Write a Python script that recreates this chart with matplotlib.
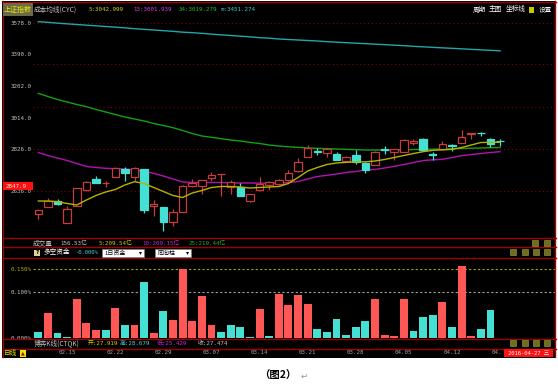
import matplotlib
matplotlib.use("Agg")
import matplotlib.pyplot as plt
from matplotlib.patches import Rectangle
from matplotlib.transforms import blended_transform_factory

W, H = 558, 388

# ---------------- data ----------------
open_ = [2432,2474,2510,2378,2481,2573,2645,2615,2652,2702,2656,2700,2480,2472,2386,2446,2597,2602,2650,2669,
         2592,2592,2512,2576,2606,2612,2633,2687,2776,2807,2796,2789,2747,2786,2741,2726,2819,2806,2806,2858,
         2881,2789,2819,2843,2860,2914,2918,2882,2870]
close = [2453,2510,2489,2459,2586,2626,2620,2618,2710,2676,2710,2456,2492,2384,2446,2600,2616,2634,2666,2671,
         2622,2542,2550,2614,2626,2636,2676,2744,2828,2804,2820,2756,2776,2746,2698,2806,2816,2820,2879,2870,
         2814,2786,2850,2840,2892,2916,2915,2850,2867]
high = [2456,2525,2520,2480,2588,2630,2660,2632,2716,2712,2714,2702,2516,2474,2459,2603,2640,2636,2682,2672,
        2636,2616,2552,2656,2627,2639,2696,2766,2844,2830,2822,2801,2777,2813,2744,2807,2840,2822,2882,2882,
        2890,2804,2870,2850,2936,2918,2926,2885,2879]
low = [2402,2471,2484,2378,2480,2570,2618,2592,2651,2632,2630,2440,2422,2330,2360,2444,2596,2552,2630,2540,
       2552,2540,2502,2570,2576,2606,2630,2684,2774,2786,2776,2753,2744,2732,2676,2726,2794,2756,2804,2846,
       2812,2756,2816,2810,2858,2880,2897,2836,2840]

cyc5 = [2510,2510,2506,2495,2486,2516,2543,2564,2579,2606,2626,2615,2591,2567,2543,2531,2558,2573,2591,2597,
        2597,2594,2588,2591,2594,2597,2615,2651,2690,2711,2729,2738,2742,2744,2745,2750,2759,2771,2783,2795,
        2806,2814,2817,2820,2831,2846,2861,2862,2862]
cyc13 = [2801,2783,2768,2753,2735,2717,2711,2706,2704,2702,2696,2687,2676,2660,2642,2624,2621,2621,2621,2621,
         2619,2618,2618,2617,2616,2616,2621,2627,2642,2657,2664,2672,2681,2687,2696,2699,2708,2718,2729,2741,
         2753,2757,2760,2771,2782,2789,2795,2801,2806]
cyc34 = [3156,3137,3119,3104,3089,3076,3059,3044,3029,3014,3002,2990,2975,2963,2950,2933,2915,2900,2892,2884,
         2876,2870,2862,2855,2846,2840,2835,2832,2828,2826,2824,2822,2820,2818,2816,2816,2816,2816,2817,2819,
         2820,2821,2822,2823,2825,2827,2828,2830,2831]
cycinf = [3586,3582,3577,3573,3569,3565,3561,3557,3553,3549,3544,3540,3536,3532,3528,3523,3520,3516,3511,3507,
          3503,3499,3495,3490,3487,3482,3479,3476,3473,3470,3466,3463,3460,3457,3454,3451,3448,3445,3442,3438,
          3435,3432,3429,3426,3423,3420,3417,3414,3411]

fund = [0.013,0.054,0.011,0.002,0.085,0.033,0.017,0.017,0.065,0.028,
        0.028,0.122,0.011,0.059,0.039,0.150,0.037,0.091,0.030,0.013,
        0.028,0.024,0.002,0.063,0.004,0.096,0.072,0.094,0.074,0.020,
        0.013,0.041,0.007,0.024,0.037,0.085,0.007,0.004,0.085,0.015,
        0.046,0.050,0.080,0.024,0.157,0.004,0.020,0.061]
fund_up = [0,1,0,0,1,1,1,0,1,0, 1,0,1,0,1,1,1,1,1,0, 0,0,0,1,0,1,1,1,1,0,
           0,0,0,0,0,1,1,1,1,0, 0,0,1,0,1,1,0,0]

price_ticks = [3578, 3392, 3200, 3008, 2822, 2570]
price_labels = ['3578.0', '3390.0', '3202.0', '3014.0', '2826.0', '2636.0']
price_grid = [3578, 3330, 3074, 2822, 2570]
fund_ticks = [0.15, 0.10, 0.0]
fund_labels = ['0.150%', '0.100%', '0.000%']
date_pos = [4, 9, 14, 19, 24, 29, 34, 39, 44, 48.7]
date_labels = ['02.15', '02.22', '02.29', '03.07', '03.14', '03.21', '03.28', '04.05', '04.12', '04.']

# ---------------- style ----------------
RED = '#c83c3c'
TEAL = '#44e0d4'
BARRED = '#ff5656'
BORDER = '#a00000'
GRAY = '#c0c0c0'
YEL = '#b4b400'
MAG = '#b014b0'
GRN = '#14a014'
CYN = '#20a8a8'
CJK = ['Noto Sans CJK SC', 'DejaVu Sans']
MONO = ['DejaVu Sans Mono', 'Noto Sans CJK SC']
NS = 4.2   # number font size
CS = 4.8   # CJK font size

idx = list(range(1, len(open_) + 1))

fig = plt.figure(figsize=(W / 100, H / 100), dpi=100)
fig.patch.set_facecolor('white')


def rect(x0, y0, x1, y1):
    return [x0 / W, 1 - y1 / H, (x1 - x0) / W, (y1 - y0) / H]


bg = fig.add_axes([0, 0, 1, 1], zorder=0)
bg.set_xlim(0, W); bg.set_ylim(H, 0); bg.axis('off')
bg.add_patch(Rectangle((2, 1), 554, 357, facecolor='black', edgecolor='none'))

XL = (0.449, 54.71)

# ---------------- main price panel ----------------
ax = fig.add_axes(rect(33, 16, 555, 238), zorder=1)
ax.set_facecolor('none')
ax.set_xlim(*XL)
ax.set_ylim(2288, 3620)
for s in ax.spines.values():
    s.set_visible(False)
ax.set_xticks([])
ax.set_yticks(price_ticks)
ax.set_yticklabels(price_labels, family=MONO, fontsize=NS, color=GRAY)
ax.tick_params(axis='y', length=0, pad=1.0)
for g in price_grid:
    ax.axhline(g, color='#800000', ls=(0, (1, 2.5)), lw=0.8, zorder=0)

ax.plot(idx, cycinf, color=CYN, lw=1.0, zorder=2)
ax.plot(idx, cyc34, color=GRN, lw=1.0, zorder=2)
ax.plot(idx, cyc13, color=MAG, lw=1.0, zorder=2)
ax.plot(idx, cyc5, color=YEL, lw=1.0, zorder=4)

w = 0.78
for x, o, h, l, c in zip(idx, open_, high, low, close):
    up = c > o
    col = RED if up else TEAL
    ax.vlines(x, l, h, color=col, lw=0.9, zorder=3)
    bot, top = min(o, c), max(o, c)
    ax.add_patch(Rectangle((x - w / 2, bot), w, top - bot,
                           facecolor='black' if up else TEAL,
                           edgecolor=col, lw=0.9, zorder=3))

# ---------------- fund bar panel ----------------
axb = fig.add_axes(rect(33, 258, 555, 338.3), zorder=1)
axb.set_facecolor('none')
axb.set_xlim(*XL)
axb.set_ylim(0, 0.1746)
for s in axb.spines.values():
    s.set_visible(False)
axb.set_xticks([])
axb.set_yticks(fund_ticks)
axb.set_yticklabels(fund_labels, family=MONO, fontsize=NS)
for t, col in zip(axb.get_yticklabels(), [YEL, GRAY, GRAY]):
    t.set_color(col)
axb.tick_params(axis='y', length=0, pad=1.0)
axb.axhline(0.15, color='#a8a800', ls=(0, (2, 2)), lw=0.8, zorder=0)
axb.axhline(0.10, color='#a0a0a0', ls=(0, (2, 2)), lw=0.8, zorder=0)
axb.bar(idx[:len(fund)], fund, width=0.82,
        color=[BARRED if u else TEAL for u in fund_up], edgecolor='none', zorder=2)

# ---------------- overlay (frames & texts) ----------------
ov = fig.add_axes([0, 0, 1, 1], zorder=3)
ov.set_xlim(0, W); ov.set_ylim(H, 0); ov.axis('off')

ov.add_patch(Rectangle((3, 338.5), 552, 19, facecolor='black', edgecolor='none', zorder=1))

for y in [1.5, 238.3, 247.3, 258.3, 338.6, 348.5]:
    ov.plot([2.5, 555.5], [y, y], color=BORDER, lw=1.0, zorder=2)
ov.plot([2.5, 2.5], [1, 357], color=BORDER, lw=1.0, zorder=2)
ov.plot([555.3, 555.3], [1, 357], color=BORDER, lw=1.0, zorder=2)


def T(x, y, s, col=GRAY, fam=MONO, size=NS, **kw):
    ov.text(x, y, s, color=col, family=fam, fontsize=size, va='center', ha='left', zorder=5, **kw)


# title row
ov.add_patch(Rectangle((3, 3), 30, 13, facecolor='#6a6a4a', edgecolor='none', zorder=3))
T(3.5, 9.5, '上证指数', col='#e8e800', fam=CJK, size=5.0)
T(34, 9.5, '成本均线(CYC)', fam=CJK, size=CS)
T(89, 9.5, '5:3042.999', col='#d0d020')
T(133, 9.5, '13:3001.939', col='#e040e0')
T(179, 9.5, '34:3019.279', col='#20c020')
T(221, 9.5, '∞:3451.274', col='#40d0d0')
T(473, 9.5, '周期', col='white', fam=CJK, size=CS)
T(489, 9.5, '主图', col='white', fam=CJK, size=CS)
T(506, 9.5, '坐标线', col='white', fam=CJK, size=CS)
ov.add_patch(Rectangle((529, 6.5), 5, 6, facecolor='#c8c800', edgecolor='none', zorder=3))
T(539, 9.5, '设置', col='white', fam=CJK, size=CS)

# current price marker
ov.add_patch(Rectangle((3, 182), 30, 8, facecolor='#ff1010', edgecolor='none', zorder=3))
T(6, 186, '2847.9', col='#ffe0e0')

# volume row
T(33, 243.5, '成交量', fam=CJK, size=CS)
T(60, 243.5, '156.53亿')
T(99, 243.5, '5:209.54亿', col='#c8c800')
T(142, 243.5, '10:209.15亿', col='#d020d0')
T(189, 243.5, '25:219.44亿', col='#20b020')

# fund row
ov.add_patch(Rectangle((34, 249.5), 6, 6, facecolor='#d8d890', edgecolor='none', zorder=3))
ov.text(37, 252.7, '?', color='black', fontsize=4, ha='center', va='center', zorder=5, weight='bold')
T(43, 252.7, '多空资金', col='white', fam=CJK, size=CS)
T(75, 252.7, '-0.000%', col='#40d0d0', size=4.0)
ov.add_patch(Rectangle((102, 249), 42, 8, facecolor='white', edgecolor='#808080', lw=0.5, zorder=6))
T(104, 253, '1日资金', col='black', fam=CJK, size=4.3, )
T(139, 253, '▾', col='black', fam=['DejaVu Sans'], size=4.3)
ov.add_patch(Rectangle((155, 249), 36, 8, facecolor='white', edgecolor='#808080', lw=0.5, zorder=6))
T(158, 253, '同向柱', col='black', fam=CJK, size=4.3)
T(186, 253, '▾', col='black', fam=['DejaVu Sans'], size=4.3)
for t in ov.texts[-4:]:
    t.set_zorder(7)

# CTQK row
T(34, 343.5, '博弈K线(CTQK)', fam=CJK, size=CS)
T(88, 343.5, '开:27.919', col='#c8c800')
T(120, 343.5, '高:28.679', col='#40d0d0')
T(157, 343.5, '低:25.429', col='#d020d0')
T(198, 343.5, '收:27.474', col=GRAY)

# small toolbar icons
for yy, xs in [(243, [532, 544]), (252, [510, 522, 533, 544]), (343, [510, 522, 533, 544])]:
    for xx in xs:
        ov.add_patch(Rectangle((xx, yy - 3), 6, 6, facecolor='#6e6e20', edgecolor='#a0a040', lw=0.4, zorder=3))

# date row
T(3.5, 352.8, '日线', col='#e8e800', fam=CJK, size=CS)
ov.add_patch(Rectangle((19.5, 349.5), 6, 7, facecolor='#e8e800', edgecolor='none', zorder=3))
ov.text(22.5, 353.2, '▲', color='#c00000', fontsize=3.5, ha='center', va='center', zorder=5)
tr = blended_transform_factory(axb.transData, ov.transData)
for p, lab in zip(date_pos, date_labels):
    ov.text(p, 352.8, lab, transform=tr, color='#a0a0a0', family=MONO, fontsize=NS,
            ha='center', va='center', zorder=4)
ov.add_patch(Rectangle((504, 349.2), 49, 8, facecolor='#ff1010', edgecolor='none', zorder=6))
ov.text(528.5, 353.2, '2016-04-27 三', color='white', family=MONO, fontsize=4.0,
        va='center', ha='center', zorder=7)

# caption
ov.text(278, 376, '（图2）', color='black', family=CJK, fontsize=7.5, weight='bold',
        ha='center', va='center', zorder=5)
ov.text(301, 376.5, '↵', color='#909090', family=['DejaVu Sans'], fontsize=6,
        ha='left', va='center', zorder=5)

fig.savefig('out.png', dpi=100, facecolor='white')
